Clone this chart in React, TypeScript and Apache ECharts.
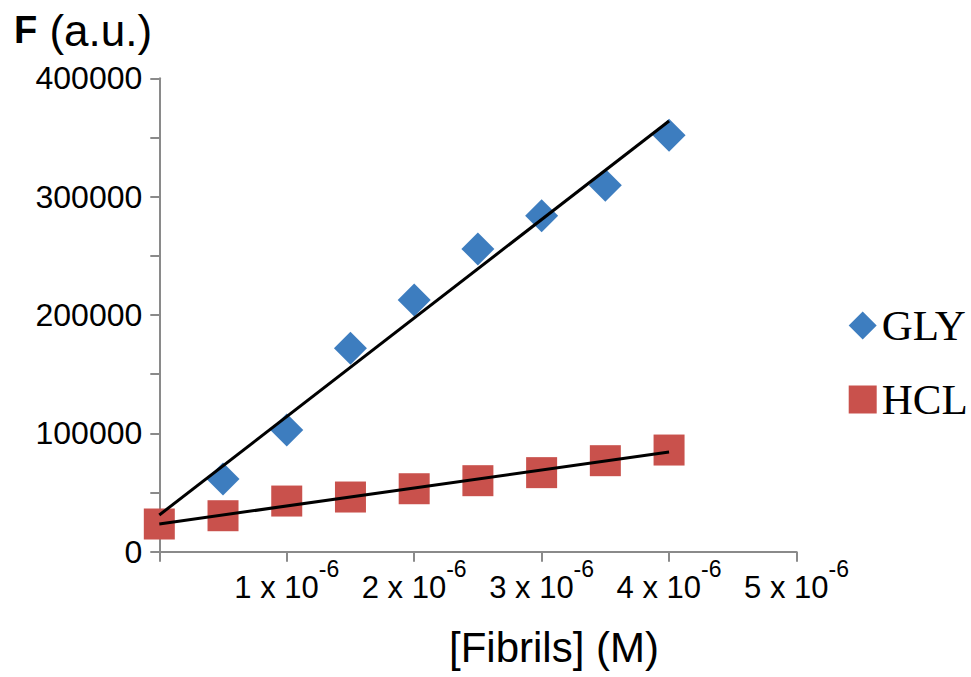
import React, { useEffect, useRef } from "react";
import * as echarts from "echarts";

// Concentration of fibrils (M)
const glyX = [0.5e-6, 1e-6, 1.5e-6, 2e-6, 2.5e-6, 3e-6, 3.5e-6, 4e-6];
const glyY = [61400, 102800, 171900, 212700, 255800, 283900, 309600, 351800];
const hclX = [0, 0.5e-6, 1e-6, 1.5e-6, 2e-6, 2.5e-6, 3e-6, 3.5e-6, 4e-6];
const hclY = [23400, 30400, 42800, 46200, 53200, 60000, 66800, 76900, 85900];
// trend line end points
const glyTrendX = [0, 4e-6];
const glyTrendY = [31000, 363900];
const hclTrendX = [0, 4e-6];
const hclTrendY = [23400, 84200];
const seriesNames = ["GLY", "HCL"];
const yTickStep = 50000;
const yLabelStep = 100000;

const pair = (xs: number[], ys: number[]) => xs.map((x, i) => [x, ys[i]]);

export default function App() {
  const ref = useRef<HTMLDivElement>(null);
  useEffect(() => {
    const chart = echarts.init(ref.current!, null, { renderer: "svg" });
    const sans = "Liberation Sans";
    chart.setOption({
      animation: false,
      backgroundColor: "#ffffff",
      grid: {
        left: 159.3,
        top: 78.3,
        right: 174.5,
        bottom: 125.3,
        containLabel: false,
        outerBoundsMode: "none",
      },
      legend: {
        data: [
          { name: seriesNames[0], icon: "diamond" },
          { name: seriesNames[1], icon: "rect" },
        ],
        orient: "vertical",
        left: 843.7,
        top: 299,
        padding: 5,
        itemWidth: 28,
        itemHeight: 28,
        itemGap: 31,
        textStyle: { fontFamily: "Liberation Serif", fontSize: 43, color: "#000" },
        selectedMode: false,
      },
      xAxis: {
        type: "value",
        min: 0,
        max: 5e-6,
        interval: 1e-6,
        splitLine: { show: false },
        axisLine: { onZero: false, lineStyle: { color: "#8a8a8a", width: 2 } },
        axisTick: { length: 10, lineStyle: { color: "#8a8a8a", width: 2 } },
        axisLabel: {
          margin: 6,
          formatter: (v: number) => {
            const n = Math.round(v * 1e6);
            if (n === 0) return "";
            return `{a|${n} x 10}{b|-6}`;
          },
          rich: {
            a: {
              fontFamily: sans,
              fontSize: 31,
              color: "#000",
              padding: [12, 0, 0, 0],
            },
            b: {
              fontFamily: sans,
              fontSize: 23,
              color: "#000",
              padding: [0, 0, 24, 0],
            },
          },
        },
      },
      yAxis: {
        type: "value",
        min: 0,
        max: 400000,
        interval: yTickStep,
        splitLine: { show: false },
        axisLine: { show: true, lineStyle: { color: "#8a8a8a", width: 2 } },
        axisTick: { show: true, length: 9, lineStyle: { color: "#8a8a8a", width: 2 } },
        axisLabel: {
          margin: 17,
          fontFamily: sans,
          fontSize: 32,
          color: "#000",
          formatter: (v: number) => (v % yLabelStep === 0 ? String(v) : ""),
        },
      },
      graphic: [
        {
          type: "text",
          left: 14,
          top: 8,
          style: {
            text: "{f|F}{u| (a.u.)}",
            rich: {
              f: { fontFamily: sans, fontSize: 38, fontWeight: "bold", fill: "#000" },
              u: { fontFamily: sans, fontSize: 44, fill: "#000" },
            },
          },
        },
        {
          type: "text",
          x: 554,
          y: 647,
          style: {
            text: "[Fibrils] (M)",
            fontFamily: sans,
            fontSize: 42,
            fill: "#000",
            align: "center",
            verticalAlign: "middle",
          },
        },
      ],
      series: [
        {
          name: seriesNames[0],
          type: "scatter",
          symbol: "diamond",
          symbolSize: 33,
          itemStyle: { color: "#3d7dbf", opacity: 1 },
          data: pair(glyX, glyY),
          z: 2,
        },
        {
          name: seriesNames[1],
          type: "scatter",
          symbol: "rect",
          symbolSize: 31,
          itemStyle: { color: "#c9514c", opacity: 1 },
          data: pair(hclX, hclY),
          z: 2,
        },
        {
          name: "GLY trend",
          type: "line",
          symbol: "none",
          silent: true,
          lineStyle: { color: "#000", width: 3 },
          data: pair(glyTrendX, glyTrendY),
          z: 3,
        },
        {
          name: "HCL trend",
          type: "line",
          symbol: "none",
          silent: true,
          lineStyle: { color: "#000", width: 3 },
          data: pair(hclTrendX, hclTrendY),
          z: 3,
        },
      ],
    });
    return () => chart.dispose();
  }, []);
  return (
    <div
      ref={ref}
      style={{ position: "absolute", left: 0, top: 0, width: 971, height: 677 }}
    />
  );
}
